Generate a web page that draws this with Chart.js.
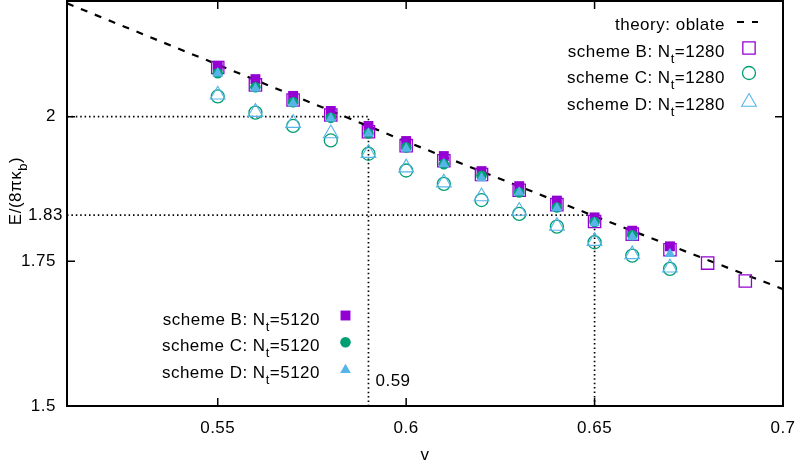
<!DOCTYPE html>
<html>
<head>
<meta charset="utf-8">
<script src="https://cdn.jsdelivr.net/npm/chart.js@4.4.0/dist/chart.umd.min.js"></script>
<style>
  html, body { margin: 0; padding: 0; background: #fff; }
  canvas { display: block; }
</style>
</head>
<body>
<canvas id="energyChart" width="798" height="465"></canvas>
<script>
// reduced volume v and bending energy E/(8 pi kappa_b)
const vShort = [0.55, 0.56, 0.57, 0.58, 0.59, 0.60, 0.61, 0.62, 0.63, 0.64, 0.65, 0.66, 0.67];
const vLong = [0.55, 0.56, 0.57, 0.58, 0.59, 0.60, 0.61, 0.62, 0.63, 0.64, 0.65, 0.66, 0.67, 0.68, 0.69];

const theoryV = [0.51, 0.55, 0.60, 0.65, 0.70];
const theoryE = [2.196, 2.090, 1.957, 1.828, 1.702];

const schemeB1280 = [2.085, 2.055, 2.029, 2.003, 1.974, 1.950, 1.924, 1.900, 1.873, 1.848, 1.819, 1.797, 1.770, 1.747, 1.716];
const schemeC1280 = [2.035, 2.007, 1.984, 1.959, 1.936, 1.907, 1.884, 1.856, 1.832, 1.810, 1.783, 1.760, 1.737];
const schemeD1280 = [2.038, 2.008, 1.989, 1.971, 1.937, 1.912, 1.886, 1.862, 1.837, 1.811, 1.785, 1.762, 1.739];

const schemeB5120 = [2.088, 2.065, 2.036, 2.010, 1.984, 1.958, 1.932, 1.906, 1.880, 1.855, 1.826, 1.803, 1.776];
const schemeC5120 = [2.075, 2.051, 2.025, 1.998, 1.971, 1.947, 1.918, 1.898, 1.869, 1.843, 1.818, 1.795];
const schemeD5120 = [2.075, 2.049, 2.023, 1.997, 1.971, 1.945, 1.918, 1.894, 1.869, 1.842, 1.816, 1.792, 1.763];

// dotted guides: (0.59, 2) and (0.65, 1.83)
const guideV = [0.59, 0.65];
const guideE = [2, 1.83];

const xTicks = [0.55, 0.6, 0.65, 0.7];
const yTicks = [1.5, 1.75, 2];

const PURPLE = '#9400D3';
const GREEN = '#009E73';
const BLUE = '#56B4E9';
const FAMILY = '"Liberation Sans", Arial, Helvetica, sans-serif';
const FONT = '17px ' + FAMILY;
const SUB_FONT = '13px ' + FAMILY;
const SUB_DROP = 6;

function pts(xs, ys) {
  return ys.map((y, i) => ({ x: xs[i], y: y }));
}

function guidePts(i) {
  return [{ x: 0.51, y: guideE[i] }, { x: guideV[i], y: guideE[i] }, { x: guideV[i], y: 1.5 }];
}

function schemeLabel(s, n) {
  return [{ text: 'scheme ' + s + ': N' }, { text: 't', sub: true }, { text: '=' + n }];
}

function drawRich(ctx, parts, x, y, align) {
  const widths = parts.map(p => {
    ctx.font = p.sub ? SUB_FONT : FONT;
    return ctx.measureText(p.text).width;
  });
  const total = widths.reduce((s, w) => s + w, 0);
  let cx = align === 'right' ? x - total : align === 'center' ? x - total / 2 : x;
  ctx.textAlign = 'left';
  ctx.textBaseline = 'alphabetic';
  parts.forEach((p, i) => {
    ctx.font = p.sub ? SUB_FONT : FONT;
    ctx.fillText(p.text, cx, y + (p.sub ? SUB_DROP : 0));
    cx += widths[i];
  });
}

function drawMarker(ctx, ds, px, py) {
  ctx.save();
  ctx.fillStyle = ds.backgroundColor;
  ctx.strokeStyle = ds.borderColor;
  ctx.lineWidth = ds.borderWidth;
  Chart.helpers.drawPoint(ctx, {
    pointStyle: ds.pointStyle, radius: ds.pointRadius, rotation: 0, borderWidth: ds.borderWidth
  }, px, py);
  ctx.restore();
}

const datasets = [
  { label: 'theory: oblate', data: pts(theoryV, theoryE), showLine: true, borderColor: '#000',
    borderWidth: 2.2, borderDash: [7, 8], pointRadius: 0, order: 20 },
  { data: guidePts(0), showLine: true, borderColor: '#000', borderWidth: 1.7,
    borderDash: [1.5, 2.9], pointRadius: 0, order: 21 },
  { data: guidePts(1), showLine: true, borderColor: '#000', borderWidth: 1.7,
    borderDash: [1.5, 2.9], pointRadius: 0, order: 21 },
  { data: pts(vLong, schemeB1280), pointStyle: 'rect', pointRadius: 8.7, borderWidth: 1.3,
    borderColor: PURPLE, backgroundColor: 'rgba(0,0,0,0)', order: 6 },
  { data: pts(vShort, schemeC1280), pointStyle: 'circle', pointRadius: 6.5, borderWidth: 1.3,
    borderColor: GREEN, backgroundColor: 'rgba(0,0,0,0)', order: 5 },
  { data: pts(vShort, schemeD1280), pointStyle: 'triangle', pointRadius: 8.5, borderWidth: 1.1,
    borderColor: BLUE, backgroundColor: 'rgba(0,0,0,0)', order: 4 },
  { data: pts(vShort, schemeB5120), pointStyle: 'rect', pointRadius: 7, borderWidth: 0,
    borderColor: PURPLE, backgroundColor: PURPLE, order: 3 },
  { data: pts(vShort, schemeC5120), pointStyle: 'circle', pointRadius: 5.3, borderWidth: 0,
    borderColor: GREEN, backgroundColor: GREEN, order: 2 },
  { data: pts(vShort, schemeD5120), pointStyle: 'triangle', pointRadius: 6.2, borderWidth: 0,
    borderColor: BLUE, backgroundColor: BLUE, order: 1 }
];

// frame with inward mirrored ticks, keys, axis titles and the extra labels
const decorations = {
  id: 'decorations',
  beforeDraw(chart) {
    chart.ctx.letterSpacing = '0.5px';
  },
  afterDraw(chart) {
    const { ctx, chartArea: a, scales: { x, y } } = chart;
    ctx.save();
    ctx.globalAlpha = 1;
    ctx.setLineDash([]);
    ctx.strokeStyle = '#000000';
    ctx.fillStyle = '#000000';
    ctx.lineWidth = 2;
    ctx.beginPath();
    ctx.rect(a.left, a.top, a.right - a.left, a.bottom - a.top);
    ctx.stroke();

    const tick = 8;
    ctx.lineWidth = 1.5;
    ctx.beginPath();
    xTicks.forEach(v => {
      const px = x.getPixelForValue(v);
      if (px <= a.left + 1 || px >= a.right - 1) return;
      ctx.moveTo(px, a.bottom); ctx.lineTo(px, a.bottom - tick);
      ctx.moveTo(px, a.top); ctx.lineTo(px, a.top + tick);
    });
    yTicks.forEach(v => {
      const py = y.getPixelForValue(v);
      if (py <= a.top + 1 || py >= a.bottom - 1) return;
      ctx.moveTo(a.left, py); ctx.lineTo(a.left + tick, py);
      ctx.moveTo(a.right, py); ctx.lineTo(a.right - tick, py);
    });
    ctx.stroke();

    ctx.font = FONT;
    ctx.textAlign = 'right';
    ctx.textBaseline = 'middle';
    ctx.fillText('1.83', 63, y.getPixelForValue(guideE[1]));

    ctx.textAlign = 'left';
    ctx.textBaseline = 'alphabetic';
    ctx.fillText('0.59', x.getPixelForValue(guideV[0]) + 7, a.bottom - 20);

    // axis titles
    ctx.textAlign = 'center';
    ctx.fillText('v', (a.left + a.right) / 2, 460);
    ctx.save();
    ctx.translate(21, 191);
    ctx.rotate(-Math.PI / 2);
    drawRich(ctx, [{ text: 'E/(8πκ' }, { text: 'b', sub: true }, { text: ')' }], 0, 0, 'center');
    ctx.restore();

    // upper key
    const ds = chart.data.datasets;
    drawRich(ctx, [{ text: 'theory: oblate' }], 725, 29.5, 'right');
    ctx.save();
    ctx.lineWidth = 2.2;
    ctx.setLineDash([7, 8]);
    ctx.beginPath();
    ctx.moveTo(737, 22); ctx.lineTo(758, 22);
    ctx.stroke();
    ctx.restore();
    const upper = [['B', 3, 56.5, 48], ['C', 4, 83, 73], ['D', 5, 110, 102]];
    upper.forEach(([s, i, base, my]) => {
      ctx.fillStyle = '#000';
      drawRich(ctx, schemeLabel(s, 1280), 725, base, 'right');
      drawMarker(ctx, ds[i], 749, my);
    });

    // lower key
    const lower = [['B', 6, 324.5, 315.5], ['C', 7, 351, 342.3], ['D', 8, 377.5, 370]];
    lower.forEach(([s, i, base, my]) => {
      ctx.fillStyle = '#000';
      drawRich(ctx, schemeLabel(s, 5120), 320, base, 'right');
      drawMarker(ctx, ds[i], 345.5, my);
    });
    ctx.restore();
  }
};

const tickFont = { family: FAMILY, size: 17 };

function noPad(s) {
  s.paddingTop = 0; s.paddingBottom = 0; s.paddingLeft = 0; s.paddingRight = 0;
}

new Chart(document.getElementById('energyChart'), {
  type: 'scatter',
  data: { datasets: datasets },
  options: {
    responsive: false,
    animation: false,
    devicePixelRatio: 1,
    layout: { autoPadding: false, padding: { top: 1, right: 15, left: 0, bottom: 0 } },
    plugins: { legend: { display: false }, tooltip: { enabled: false } },
    scales: {
      x: {
        type: 'linear', min: 0.51, max: 0.7,
        afterBuildTicks: s => { s.ticks = xTicks.map(v => ({ value: v })); },
        afterFit: s => { s.height = 59; noPad(s); },
        grid: { display: false, drawTicks: false },
        border: { display: false },
        ticks: { padding: 12, color: '#000', font: tickFont, maxRotation: 0, autoSkip: false,
          callback: v => String(v) }
      },
      y: {
        type: 'linear', min: 1.5, max: 2.2,
        afterBuildTicks: s => { s.ticks = yTicks.map(v => ({ value: v })); },
        afterFit: s => { s.width = 67; noPad(s); },
        grid: { display: false, drawTicks: false },
        border: { display: false },
        ticks: { padding: 11, color: '#000', font: tickFont, autoSkip: false,
          callback: v => String(v) }
      }
    }
  },
  plugins: [decorations]
});
</script>
</body>
</html>
